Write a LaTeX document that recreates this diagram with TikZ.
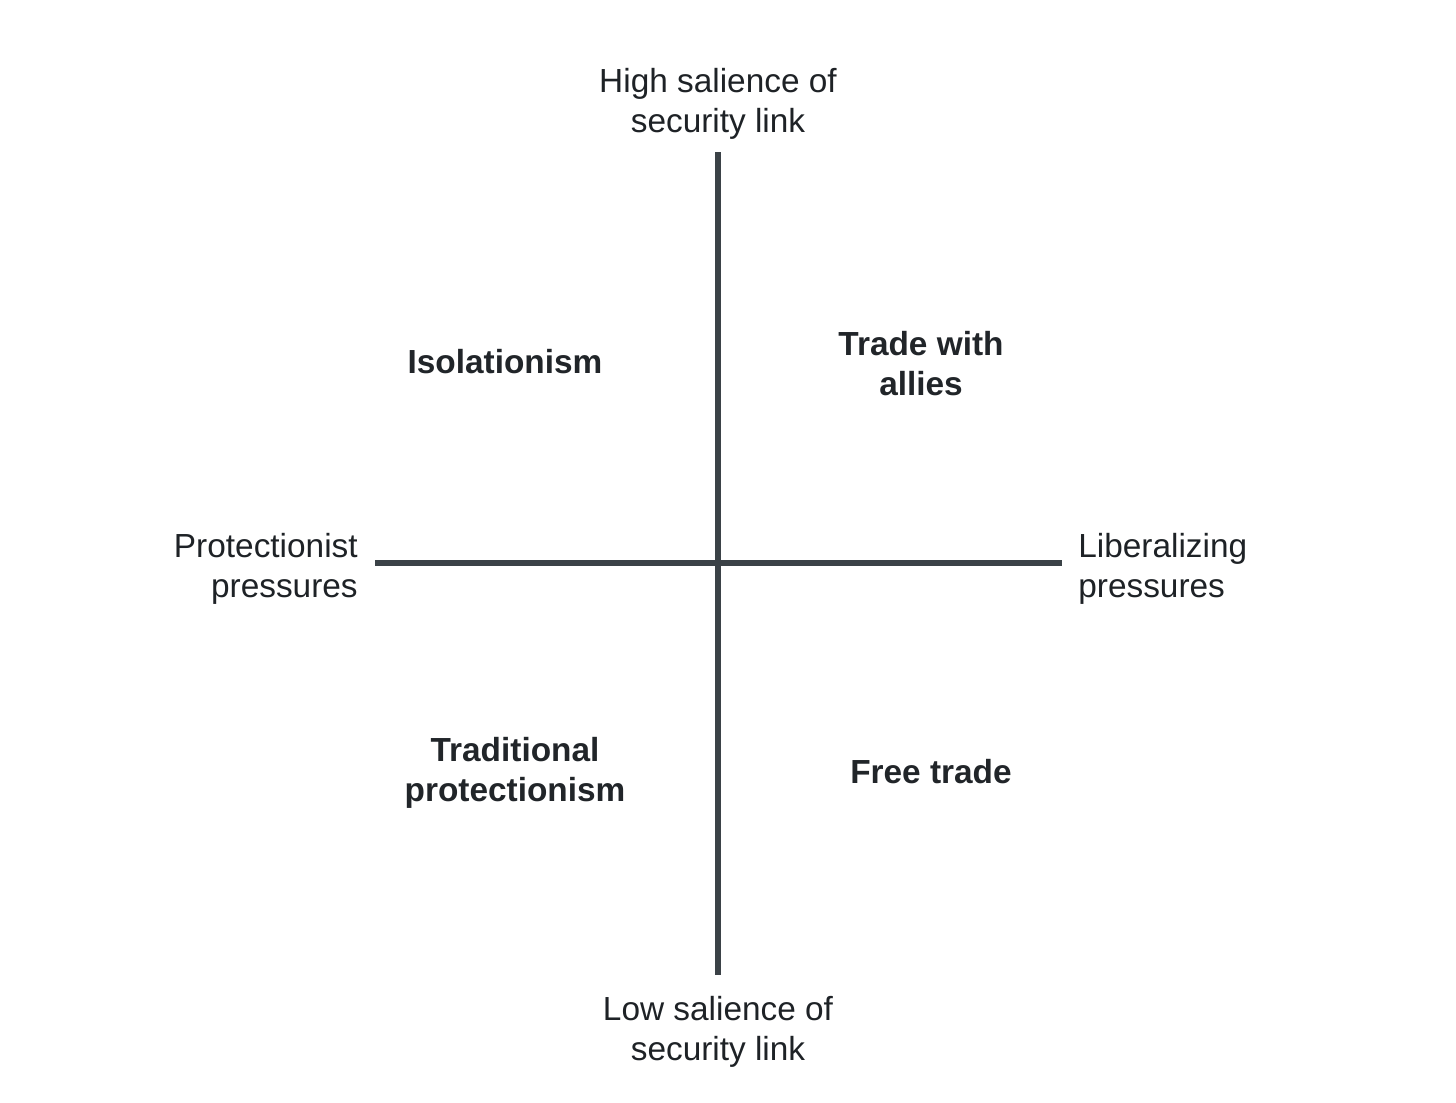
\documentclass[tikz,border=0pt]{standalone}
\usepackage{fontspec}
\setmainfont{Liberation Sans}
\usepackage{tikz}
\definecolor{axisgray}{RGB}{59, 66, 71}
\definecolor{textdark}{RGB}{30, 34, 38}

\begin{document}
\begin{tikzpicture}[
    x=0.02cm, y=-0.02cm,
    axislbl/.style={align=center, text=textdark, inner sep=0pt,
                    font=\fontsize{19}{22.8}\selectfont},
    quad/.style={align=center, text=textdark!90!axisgray, inner sep=0pt,
                 font=\fontsize{19}{22.8}\selectfont\bfseries},
    axisline/.style={line width=3.4pt, draw=axisgray},
  ]
  \useasboundingbox (0,0) rectangle (1456,1102);

  % -- axes ---------------------------------------
  \coordinate (top)   at (718,152);
  \coordinate (bot)   at (718,975);
  \coordinate (west)  at (375,563);
  \coordinate (east)  at (1062,563);

  \draw[axisline] (top)  -- (bot);
  \draw[axisline] (west) -- (east);

  % -- axis labels --------------------------------
  \node[axislbl] (high) at (718,104) {High salience of\\security link};
  \node[axislbl] (low)  at (718,1032) {Low salience of\\security link};
  \node[axislbl, align=right, anchor=east] (prot) at (358,569)
        {Protectionist\\pressures};
  \node[axislbl, align=left, anchor=west]  (lib)  at (1078,569)
        {Liberalizing\\pressures};

  % -- quadrants ----------------------------------
  \node[quad] (iso)   at (505,362) {Isolationism};
  \node[quad] (allies) at (921,364) {Trade with\\allies};
  \node[quad] (trad)  at (515,773) {Traditional\\protectionism};
  \node[quad] (free)  at (931,772) {Free trade};

\end{tikzpicture}
\end{document}
